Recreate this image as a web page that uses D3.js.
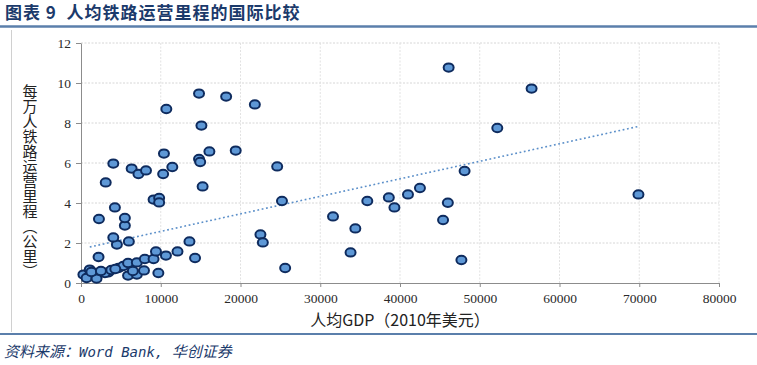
<html>
<head>
<meta charset="utf-8">
<script src="https://d3js.org/d3.v7.min.js"></script>
<style>
    body { margin: 0; background: #fff; }
    svg { font-family: "Noto Sans CJK SC", "Noto Sans", sans-serif; }
</style>
</head>
<body>
<svg id="chart"></svg>
<script>
    // 人均GDP（2010年美元） vs 每万人铁路运营里程（公里）
    var gdp = [
        300, 1100, 700, 1750, 1950, 2200, 3400, 4700, 5300, 5900, 5900, 7000, 7000, 7900, 8000,
        9100, 9400, 9700, 10650, 12100, 13600, 14300, 3000, 3800, 4300, 6500, 1300, 2500,
        6000, 4500, 4050, 5500, 5500, 2250, 4250, 3100, 4050, 6350, 7200, 8150, 10300, 10400,
        11450, 14800, 14950, 15250, 16100, 19400, 9100, 9800, 9800, 10700, 15100, 14800, 18200,
        21800, 24600, 25200, 22500, 22800, 25600, 31600, 34400, 33800, 35900, 38600, 39300,
        41000, 42500, 45400, 46000, 47700, 48100, 46100, 52200, 56500, 69900
    ];
    var railKm = [
        0.42, 0.67, 0.25, 0.5, 0.22, 1.3, 0.53, 0.75, 0.85, 1.0, 0.37, 1.03, 0.42, 0.63, 1.2,
        1.2, 1.58, 0.5, 1.37, 1.58, 2.08, 1.25, 0.5, 0.65, 0.7, 0.6, 0.55, 0.6,
        2.08, 1.92, 2.28, 2.87, 3.25, 3.2, 3.78, 5.03, 5.97, 5.72, 5.45, 5.63, 5.45, 6.47,
        5.8, 6.2, 6.05, 4.83, 6.58, 6.62, 4.17, 4.25, 4.03, 8.7, 7.87, 9.47, 9.32,
        8.93, 5.83, 4.1, 2.43, 2.03, 0.75, 3.33, 2.73, 1.53, 4.1, 4.28, 3.78,
        4.43, 4.75, 3.15, 4.01, 1.15, 5.6, 10.77, 7.75, 9.72, 4.43
    ];
    // dotted linear trend line, end points
    var trendX = [1100, 69800];
    var trendY = [1.8, 7.82];

    var xTicks = [0, 10000, 20000, 30000, 40000, 50000, 60000, 70000, 80000];
    var yTicks = [0, 2, 4, 6, 8, 10, 12];

    var width = 757, height = 365;
    var margin = { top: 43, right: 38, bottom: 82, left: 81 };

    var svg = d3.select("#chart")
        .attr("width", width)
        .attr("height", height);

    // title + frame
    svg.append("text")
        .attr("x", 5)
        .attr("y", 19)
        .attr("font-size", 17)
        .attr("font-weight", "bold")
        .attr("fill", "#1b3a6b")
        .attr("letter-spacing", 1)
        .style("white-space", "pre")
        .text("图表 9  人均铁路运营里程的国际比较");

    svg.append("line")
        .attr("x1", 0).attr("x2", width)
        .attr("y1", 26.5).attr("y2", 26.5)
        .attr("stroke", "#5b7fab")
        .attr("stroke-width", 2.5);

    svg.append("line")
        .attr("x1", 11.5).attr("x2", 11.5)
        .attr("y1", 30).attr("y2", 332)
        .attr("stroke", "#d0d0d0");

    svg.append("line")
        .attr("x1", 0).attr("x2", width)
        .attr("y1", 334).attr("y2", 334)
        .attr("stroke", "#5b7fab")
        .attr("stroke-width", 2);

    var source = svg.append("text")
        .attr("x", 4)
        .attr("y", 357)
        .attr("font-size", 15)
        .attr("font-style", "italic")
        .attr("fill", "#1b3a6b")
        .style("white-space", "pre");
    source.append("tspan").text("资料来源：");
    source.append("tspan")
        .attr("font-family", "'DejaVu Sans Mono', monospace")
        .attr("font-size", 14)
        .text("Word Bank, ");
    source.append("tspan").text("华创证券");

    var x = d3.scaleLinear()
        .domain([0, 80000])
        .range([margin.left, width - margin.right]);

    var y = d3.scaleLinear()
        .domain([0, 12])
        .range([height - margin.bottom, margin.top]);

    // grid
    svg.append("g")
        .selectAll("line")
        .data(yTicks.slice(1))
        .enter()
        .append("line")
        .attr("x1", x(0)).attr("x2", x(80000))
        .attr("y1", d => y(d)).attr("y2", d => y(d))
        .attr("stroke", "#d6d6d6")
        .attr("stroke-dasharray", "2,1.5");

    svg.append("g")
        .selectAll("line")
        .data(xTicks.slice(1))
        .enter()
        .append("line")
        .attr("x1", d => x(d)).attr("x2", d => x(d))
        .attr("y1", y(0)).attr("y2", y(12))
        .attr("stroke", "#e2e2e2")
        .attr("stroke-dasharray", "2,1.5");

    // axes
    var xAxis = svg.append("g")
        .attr("transform", "translate(0," + y(0) + ")")
        .call(d3.axisBottom(x).tickValues(xTicks).tickFormat(d3.format("d")).tickSize(4).tickSizeOuter(0).tickPadding(5));

    var yAxis = svg.append("g")
        .attr("transform", "translate(" + x(0) + ",0)")
        .call(d3.axisLeft(y).tickValues(yTicks).tickSize(5).tickSizeOuter(0).tickPadding(5));

    svg.selectAll(".domain").attr("stroke", "#8c8c8c");
    svg.selectAll(".tick line").attr("stroke", "#8c8c8c");
    svg.selectAll(".tick text")
        .style("font-family", "'Liberation Serif', 'DejaVu Serif', serif")
        .style("font-size", "13.5px")
        .attr("fill", "#2a2a2a");
    xAxis.selectAll(".tick text").attr("dy", "0.85em");

    // axis titles
    svg.append("text")
        .attr("x", 400)
        .attr("y", 326)
        .attr("text-anchor", "middle")
        .attr("font-size", 16)
        .attr("fill", "#222")
        .text("人均GDP（2010年美元）");

    svg.append("text")
        .attr("x", 30)
        .attr("y", 84)
        .attr("font-size", 15)
        .attr("fill", "#222")
        .style("writing-mode", "vertical-rl")
        .style("font-feature-settings", "'vert' 1")
        .text("每万人铁路运营里程（公里）");

    // trend line
    var trend = trendX.map((v, i) => [v, trendY[i]]);
    svg.append("path")
        .datum(trend)
        .attr("fill", "none")
        .attr("stroke", "#5b8fc9")
        .attr("stroke-width", 1.6)
        .attr("stroke-dasharray", "1.8,2.6")
        .attr("d", d3.line().x(d => x(d[0])).y(d => y(d[1])));

    // points
    var points = gdp.map((v, i) => ({ gdp: v, km: railKm[i] }));
    svg.append("g")
        .selectAll("ellipse")
        .data(points)
        .enter()
        .append("ellipse")
        .attr("cx", d => x(d.gdp))
        .attr("cy", d => y(d.km))
        .attr("rx", 5)
        .attr("ry", 4.2)
        .attr("fill", "#5e98d6")
        .attr("stroke", "#0e2b5e")
        .attr("stroke-width", 2);
</script>
</body>
</html>
